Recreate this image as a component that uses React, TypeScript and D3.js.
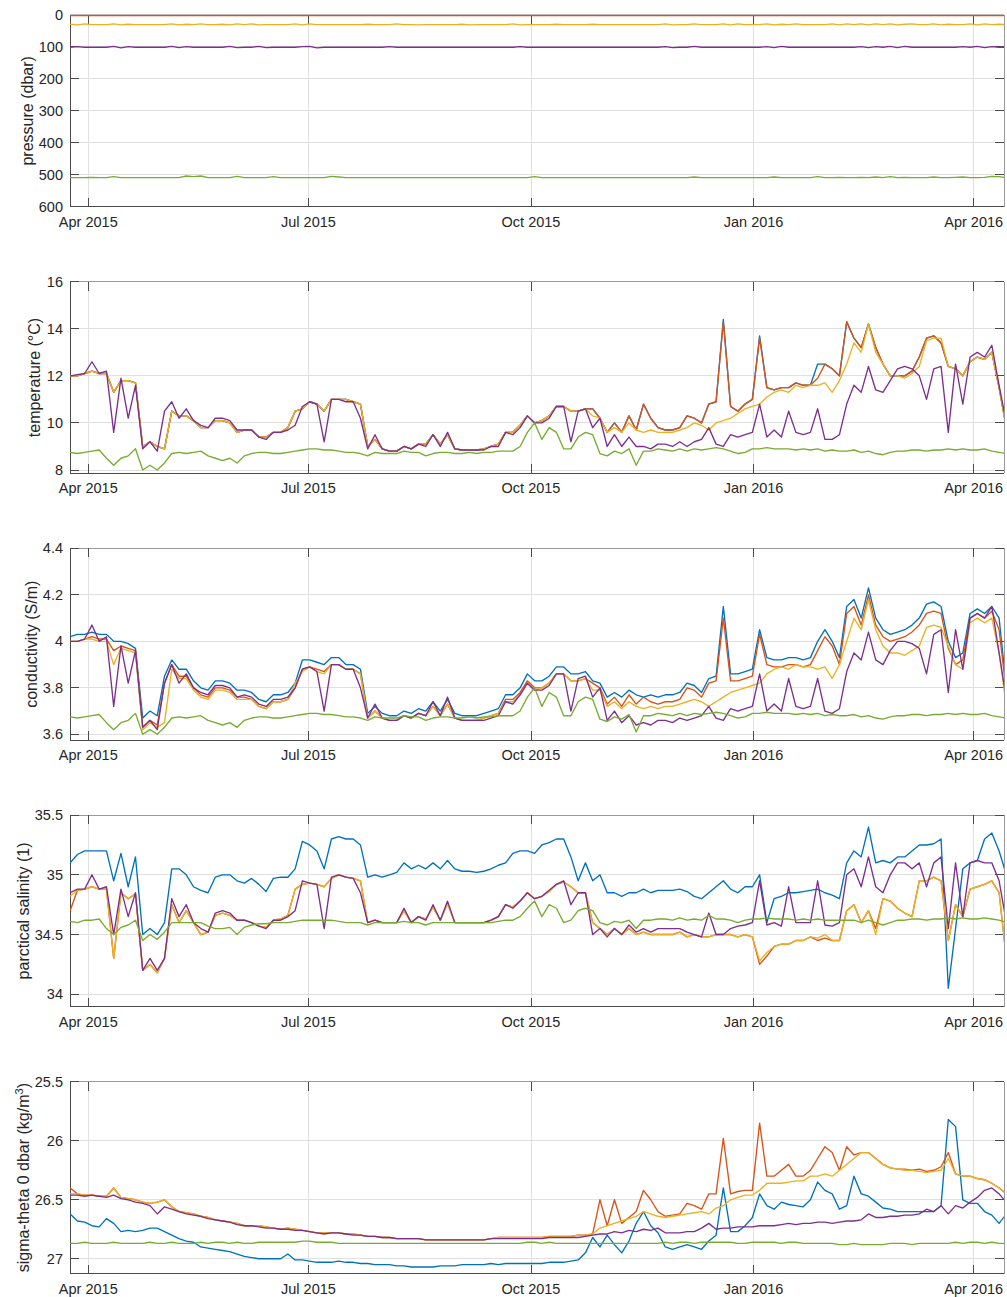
import React from "react";
import * as d3 from "d3";

// ---------- time grid ----------
const DAY = 86400000;
const X_START = Date.UTC(2015, 2, 24, 10, 26);
const X_END = Date.UTC(2016, 3, 13, 12, 36);
const FIRST_SAMPLE = Date.UTC(2015, 2, 24, 12);
const STEP_DAYS = 3;

const xTickDates = [
  Date.UTC(2015, 3, 1),
  Date.UTC(2015, 6, 1),
  Date.UTC(2015, 9, 1),
  Date.UTC(2016, 0, 1),
  Date.UTC(2016, 3, 1),
];
const xTickLabels = ["Apr 2015", "Jul 2015", "Oct 2015", "Jan 2016", "Apr 2016"];

// ---------- pressure (dbar) ----------
const presBlue = [
  1,1,1,1,1,1,1,1,1,1, 1,1,1,1,1,1,1,1,1,1, 1,1,1,1,1,1,1,1,1,1,
  1,1,1,1,1,1,1,1,1,1, 1,1,1,1,1,1,1,1,1,1, 1,1,1,1,1,1,1,1,1,1,
  1,1,1,1,1,1,1,1,1,1, 1,1,1,1,1,1,1,1,1,1, 1,1,1,1,1,1,1,1,1,1,
  1,1,1,1,1,1,1,1,1,1, 1,1,1,1,1,1,1,1,1,1, 1,1,1,1,1,1,1,1,1,1,
  1,1,1,1,1,1,1,1,1,1,
];
const presRed = [
  1.5,1.5,1.5,1.5,1.5,1.5,1.5,1.5,1.5,1.5, 1.5,1.5,1.5,1.5,1.5,1.5,1.5,1.5,1.5,1.5,
  1.5,1.5,1.5,1.5,1.5,1.5,1.5,1.5,1.5,1.5, 1.5,1.5,1.5,1.5,1.5,1.5,1.5,1.5,1.5,1.5,
  1.5,1.5,1.5,1.5,1.5,1.5,1.5,1.5,1.5,1.5, 1.5,1.5,1.5,1.5,1.5,1.5,1.5,1.5,1.5,1.5,
  1.5,1.5,1.5,1.5,1.5,1.5,1.5,1.5,1.5,1.5, 1.5,1.5,1.5,1.5,1.5,1.5,1.5,1.5,1.5,1.5,
  1.5,1.5,1.5,1.5,1.5,1.5,1.5,1.5,1.5,1.5, 1.5,1.5,1.5,1.5,1.5,1.5,1.5,1.5,1.5,1.5,
  1.5,1.5,1.5,1.5,1.5,1.5,1.5,1.5,1.5,1.5, 1.5,1.5,1.5,1.5,1.5,1.5,1.5,1.5,1.5,1.5,
  1.5,1.5,1.5,1.5,1.5,1.5,1.5,1.5,1.5,1.5,
];
const presYellow = [
  29,31,28,30,30,30,28,31,29,30, 30,30,30,30,28,31,29,30,28,30,
  30,29,31,28,30,28,31,30,30,30, 30,28,31,28,30,30,30,30,30,30,
  30,29,30,30,30,28,30,30,31,30, 30,30,30,30,29,31,30,30,30,30,
  30,28,31,30,30,30,30,29,30,30, 30,30,29,30,30,30,30,30,30,30,
  30,30,28,31,30,30,28,30,30,30, 28,31,28,30,30,30,28,31,29,30,
  28,30,30,30,30,28,31,28,30,28, 31,28,30,28,31,29,28,30,30,28,
  31,29,30,30,28,31,28,30,29,30,
];
const presPurple = [
  101,99,101,101,101,101,98,103,99,101, 101,101,101,101,98,102,99,101,101,101,
  101,101,98,102,101,101,98,102,101,101, 101,101,99,98,103,101,101,101,101,101,
  101,101,101,101,99,101,101,101,101,101, 101,101,101,101,101,101,101,101,101,101,
  101,101,99,101,101,101,101,101,101,101, 101,101,101,101,101,101,101,101,101,101,
  101,101,99,102,101,101,98,101,101,101, 101,101,101,101,101,101,99,102,98,101,
  101,101,101,101,101,101,101,101,101,99, 102,99,101,98,102,98,101,101,101,101,
  101,101,101,99,101,98,102,99,101,101,
];
const presGreen = [
  509,509,509,508,509,509,506,509,509,509, 509,509,509,509,509,509,504,506,504,509,
  509,509,509,505,509,509,509,509,506,509, 509,509,509,509,509,509,505,507,509,509,
  509,509,509,509,509,509,509,509,509,509, 509,509,509,509,509,509,509,509,509,509,
  509,509,509,509,506,509,509,509,509,509, 509,509,509,509,509,509,509,509,509,509,
  509,509,509,509,509,509,507,509,509,509, 509,509,509,509,509,509,509,507,509,509,
  509,509,509,506,509,509,508,509,509,508, 509,507,509,506,509,508,509,509,509,507,
  509,509,508,507,509,509,508,505,506,509,
];

// ---------- temperature (°C) ----------
const tempBlue = [
  12.0,12.0,12.1,12.2,12.1,12.1,11.3,11.8,11.8,11.7, 9.0,9.2,9.0,8.9,10.5,10.3,10.3,10.1,9.8,9.8,
  10.1,10.1,10.0,9.6,9.7,9.7,9.4,9.4,9.6,9.6, 9.8,10.5,10.6,10.9,10.8,10.5,11.0,11.0,11.0,10.9,
  10.8,9.0,9.3,8.9,8.8,8.8,9.0,8.9,9.1,9.1, 9.5,9.1,9.5,8.9,8.85,8.85,8.85,8.9,9.0,9.1,
  9.6,9.6,9.9,10.3,10.0,10.1,10.3,10.7,10.7,10.5, 10.5,10.6,10.6,10.2,9.6,10.0,9.6,10.3,9.7,10.8,
  10.2,9.8,9.7,9.7,9.8,10.3,10.2,10.0,10.8,10.9, 14.4,10.7,10.5,10.8,11.0,13.7,11.5,11.4,11.5,11.5,
  11.7,11.6,11.6,12.5,12.5,12.3,12.0,14.3,13.6,13.2, 14.2,13.2,12.5,12.0,12.0,12.0,12.2,12.8,13.6,13.7,
  13.4,12.4,12.3,12.0,12.6,12.8,12.7,13.0,11.5,9.8,
];
const tempRed = [
  12.0,12.0,12.1,12.2,12.1,12.1,11.3,11.8,11.8,11.7, 9.0,9.2,9.0,8.9,10.5,10.3,10.3,10.1,9.8,9.8,
  10.1,10.1,10.0,9.6,9.7,9.7,9.4,9.4,9.6,9.6, 9.8,10.5,10.6,10.9,10.8,10.5,11.0,11.0,11.0,10.9,
  10.8,9.0,9.3,8.9,8.8,8.8,9.0,8.9,9.1,9.1, 9.5,9.1,9.5,8.9,8.85,8.85,8.85,8.9,9.0,9.1,
  9.6,9.6,9.9,10.3,10.0,10.1,10.3,10.7,10.7,10.5, 10.5,10.6,10.6,10.2,9.6,10.0,9.6,10.3,9.7,10.8,
  10.2,9.8,9.7,9.7,9.8,10.3,10.2,10.0,10.8,10.9, 14.3,10.7,10.5,10.8,11.0,13.6,11.5,11.4,11.5,11.5,
  11.7,11.6,11.6,11.9,12.5,12.3,12.0,14.3,13.6,13.2, 14.2,13.2,12.5,12.0,12.0,12.0,12.2,12.8,13.6,13.7,
  13.4,12.4,12.3,12.0,12.6,12.8,12.7,13.0,11.5,9.8,
];
const tempYellow = [
  12.0,12.0,12.1,12.2,12.1,12.1,11.3,11.8,11.8,11.7, 9.0,9.2,9.0,8.9,10.5,10.3,10.3,10.1,9.8,9.8,
  10.1,10.1,10.0,9.6,9.7,9.7,9.4,9.4,9.6,9.6, 9.8,10.5,10.6,10.9,10.8,10.5,11.0,11.0,11.0,10.9,
  10.8,9.0,9.3,8.9,8.8,8.8,9.0,8.9,9.1,9.1, 9.5,9.1,9.5,8.9,8.85,8.85,8.85,8.9,9.0,9.1,
  9.6,9.6,9.9,10.3,10.0,10.1,10.3,10.7,10.7,10.5, 10.5,10.6,10.3,10.2,9.6,9.8,9.6,10.0,9.7,9.6,
  9.7,9.6,9.6,9.6,9.7,9.8,10.0,9.9,9.7,10.0, 10.1,10.2,10.4,10.6,10.7,10.8,11.1,11.3,11.4,11.3,
  11.6,11.5,11.6,11.6,11.7,11.3,11.8,12.5,13.4,13.0, 14.2,13.0,12.5,12.0,12.0,11.9,12.1,12.4,13.5,13.6,
  13.6,12.4,12.3,12.0,12.6,12.8,12.7,13.0,11.5,9.8,
];
const tempPurple = [
  12.0,12.05,12.1,12.6,12.1,12.2,9.6,11.9,10.2,11.6, 8.9,9.2,8.8,10.5,10.9,10.2,10.6,10.1,9.9,9.8,
  10.2,10.2,10.1,9.7,9.7,9.7,9.4,9.3,9.6,9.6, 9.7,9.9,10.7,10.9,10.8,9.2,11.0,11.0,10.9,10.9,
  10.2,8.9,9.5,8.9,8.8,8.8,9.0,8.9,9.1,9.0, 9.5,9.0,9.6,8.9,8.85,8.85,8.85,8.85,9.0,9.0,
  9.6,9.5,9.8,10.3,10.0,10.0,10.2,10.7,10.7,9.2, 10.5,10.6,9.8,10.2,9.0,9.5,9.0,9.4,9.0,9.0,
  8.9,9.1,9.1,9.0,9.2,9.0,9.2,9.3,9.8,9.1, 9.0,9.5,9.4,9.5,9.6,10.8,9.4,9.7,9.4,10.5,
  9.6,9.5,9.6,10.6,9.3,9.3,9.5,10.8,11.6,11.3, 12.4,11.4,11.3,11.8,12.3,12.4,12.3,12.0,11.0,12.3,
  12.4,9.6,12.5,10.8,12.8,13.0,12.8,13.3,11.6,10.0,
];
const tempGreen = [
  8.75,8.7,8.75,8.8,8.85,8.5,8.2,8.5,8.6,8.9, 8.0,8.2,8.0,8.3,8.7,8.75,8.7,8.75,8.8,8.6,
  8.5,8.4,8.5,8.3,8.6,8.7,8.75,8.75,8.7,8.7, 8.75,8.8,8.85,8.9,8.9,8.85,8.85,8.8,8.75,8.75,
  8.7,8.6,8.75,8.7,8.7,8.7,8.8,8.75,8.75,8.6, 8.7,8.75,8.75,8.7,8.7,8.75,8.7,8.75,8.75,8.8,
  8.8,8.8,9.0,9.6,10.0,9.3,9.8,9.6,8.9,8.9, 9.4,9.6,9.5,8.7,8.6,8.8,8.7,8.9,8.2,8.8,
  8.8,8.9,8.85,8.8,8.9,8.8,8.9,8.85,8.9,8.95, 8.9,8.8,8.7,8.75,8.9,8.9,8.95,8.9,8.9,8.9,
  8.85,8.9,8.85,8.9,8.8,8.85,8.8,8.8,8.85,8.75, 8.8,8.7,8.65,8.75,8.8,8.8,8.85,8.85,8.8,8.85,
  8.85,8.9,8.85,8.9,8.85,8.85,8.9,8.8,8.75,8.7,
];

// ---------- conductivity (S/m) ----------
const condBlue = [
  4.02,4.03,4.03,4.04,4.03,4.03,4.0,4.0,3.99,3.97, 3.67,3.7,3.68,3.85,3.92,3.88,3.88,3.83,3.8,3.79,
  3.83,3.83,3.82,3.79,3.79,3.78,3.75,3.74,3.77,3.77, 3.78,3.82,3.92,3.92,3.91,3.9,3.93,3.93,3.9,3.9,
  3.88,3.69,3.72,3.69,3.68,3.68,3.7,3.69,3.71,3.7, 3.74,3.7,3.75,3.69,3.68,3.68,3.68,3.69,3.7,3.71,
  3.77,3.77,3.8,3.86,3.83,3.83,3.85,3.89,3.89,3.86, 3.86,3.87,3.83,3.82,3.76,3.78,3.76,3.79,3.77,3.76,
  3.77,3.76,3.77,3.77,3.78,3.82,3.81,3.78,3.84,3.85, 4.15,3.86,3.86,3.87,3.88,4.05,3.93,3.92,3.92,3.93,
  3.93,3.92,3.93,4.0,4.05,4.0,3.93,4.15,4.18,4.1, 4.23,4.1,4.05,4.03,4.04,4.05,4.07,4.1,4.16,4.17,
  4.15,4.0,3.93,3.95,4.12,4.14,4.12,4.15,4.1,3.8,
];
const condRed = [
  4.0,4.0,4.01,4.02,4.01,4.01,3.96,3.98,3.97,3.96, 3.63,3.66,3.64,3.82,3.9,3.85,3.85,3.8,3.77,3.76,
  3.8,3.8,3.79,3.76,3.76,3.75,3.72,3.71,3.74,3.74, 3.75,3.8,3.88,3.89,3.88,3.87,3.9,3.9,3.88,3.88,
  3.86,3.67,3.7,3.67,3.66,3.66,3.68,3.67,3.69,3.68, 3.72,3.68,3.73,3.67,3.66,3.66,3.66,3.67,3.68,3.69,
  3.75,3.75,3.78,3.83,3.8,3.8,3.82,3.86,3.86,3.83, 3.83,3.84,3.82,3.8,3.73,3.76,3.72,3.77,3.73,3.76,
  3.74,3.73,3.74,3.74,3.75,3.8,3.79,3.76,3.82,3.83, 4.1,3.83,3.83,3.84,3.85,4.03,3.9,3.89,3.89,3.9,
  3.9,3.89,3.9,3.96,4.02,3.98,3.9,4.12,4.15,4.07, 4.2,4.07,4.02,4.0,4.01,4.02,4.04,4.07,4.12,4.13,
  4.12,3.97,3.9,3.92,4.1,4.12,4.1,4.13,4.05,3.78,
];
const condYellow = [
  4.0,4.0,4.01,4.01,4.0,4.0,3.9,3.97,3.96,3.95, 3.62,3.65,3.63,3.65,3.88,3.84,3.84,3.79,3.76,3.75,
  3.79,3.79,3.78,3.75,3.75,3.75,3.72,3.71,3.74,3.74, 3.75,3.82,3.87,3.89,3.87,3.86,3.9,3.9,3.88,3.88,
  3.86,3.67,3.7,3.67,3.66,3.66,3.68,3.67,3.69,3.68, 3.72,3.68,3.73,3.67,3.66,3.66,3.66,3.67,3.68,3.69,
  3.74,3.74,3.77,3.82,3.79,3.8,3.82,3.86,3.86,3.83, 3.83,3.84,3.79,3.79,3.72,3.74,3.71,3.74,3.72,3.71,
  3.72,3.71,3.72,3.72,3.73,3.74,3.75,3.74,3.72,3.74, 3.76,3.78,3.79,3.8,3.81,3.82,3.86,3.88,3.89,3.88,
  3.9,3.89,3.89,3.88,3.89,3.84,3.9,4.0,4.1,4.05, 4.18,4.05,3.98,3.95,3.95,3.94,3.96,3.98,4.06,4.07,
  4.06,3.98,3.9,3.88,4.08,4.1,4.08,4.1,3.95,3.72,
];
const condPurple = [
  4.0,4.0,4.01,4.07,4.0,4.02,3.72,3.98,3.82,3.96, 3.63,3.66,3.62,3.82,3.9,3.82,3.86,3.8,3.78,3.77,
  3.81,3.81,3.8,3.76,3.77,3.76,3.73,3.72,3.75,3.75, 3.76,3.8,3.88,3.89,3.87,3.7,3.9,3.9,3.88,3.88,
  3.8,3.67,3.73,3.67,3.66,3.66,3.68,3.67,3.69,3.68, 3.74,3.68,3.76,3.67,3.66,3.66,3.66,3.66,3.67,3.68,
  3.74,3.73,3.77,3.82,3.79,3.79,3.81,3.86,3.86,3.7, 3.84,3.85,3.76,3.8,3.66,3.7,3.65,3.68,3.64,3.65,
  3.64,3.66,3.66,3.65,3.67,3.66,3.67,3.68,3.72,3.67, 3.66,3.71,3.7,3.71,3.72,3.86,3.7,3.73,3.7,3.84,
  3.72,3.71,3.72,3.84,3.7,3.69,3.71,3.87,3.95,3.92, 4.04,3.92,3.9,3.96,4.0,4.0,3.99,3.97,3.86,4.03,
  4.05,3.78,4.05,3.88,4.1,4.12,4.1,4.15,3.95,3.75,
];
const condGreen = [
  3.675,3.67,3.675,3.68,3.685,3.65,3.62,3.65,3.66,3.69, 3.6,3.62,3.6,3.63,3.67,3.675,3.67,3.675,3.68,3.66,
  3.65,3.64,3.65,3.63,3.66,3.67,3.675,3.675,3.67,3.67, 3.675,3.68,3.685,3.69,3.69,3.685,3.685,3.68,3.675,3.675,
  3.67,3.66,3.675,3.67,3.67,3.67,3.68,3.675,3.675,3.66, 3.67,3.675,3.675,3.67,3.67,3.675,3.67,3.675,3.675,3.68,
  3.68,3.68,3.7,3.76,3.8,3.72,3.78,3.76,3.68,3.68, 3.74,3.76,3.75,3.665,3.655,3.675,3.665,3.685,3.61,3.68,
  3.68,3.69,3.685,3.68,3.69,3.68,3.69,3.685,3.69,3.695, 3.69,3.68,3.67,3.675,3.69,3.69,3.695,3.69,3.69,3.69,
  3.685,3.69,3.685,3.69,3.68,3.685,3.68,3.68,3.685,3.675, 3.68,3.67,3.665,3.675,3.68,3.68,3.685,3.685,3.68,3.685,
  3.685,3.69,3.685,3.69,3.685,3.685,3.69,3.68,3.675,3.67,
];

// ---------- practical salinity ----------
const salBlue = [
  35.1,35.17,35.2,35.2,35.2,35.2,34.95,35.18,34.9,35.15, 34.5,34.55,34.5,34.6,35.05,35.05,35.0,34.9,34.87,34.85,
  34.98,35.0,35.0,34.95,34.93,34.97,34.92,34.86,34.97,34.98, 34.98,35.05,35.28,35.25,35.2,35.05,35.3,35.32,35.3,35.3,
  35.25,34.98,35.0,34.98,35.0,35.02,35.1,35.05,35.08,35.05, 35.1,35.05,35.12,35.05,35.03,35.03,35.02,35.03,35.05,35.08,
  35.1,35.18,35.2,35.2,35.18,35.25,35.27,35.3,35.3,35.15, 34.95,35.1,34.95,35.0,34.85,34.85,34.82,34.85,34.85,34.88,
  34.85,34.87,34.87,34.87,34.88,34.86,34.82,34.8,34.85,34.9, 34.95,34.88,34.85,34.9,34.9,35.0,34.6,34.8,34.82,34.85,
  34.85,34.86,34.87,34.88,34.85,34.83,34.8,35.1,35.2,35.15, 35.4,35.1,35.12,35.1,35.15,35.15,35.2,35.25,35.25,35.26,
  35.3,34.05,34.55,35.05,35.1,35.12,35.3,35.35,35.2,35.0,
];
const salRed = [
  34.7,34.87,34.88,34.9,34.88,34.88,34.3,34.85,34.8,34.84, 34.2,34.25,34.18,34.3,34.75,34.6,34.7,34.6,34.5,34.52,
  34.66,34.68,34.66,34.62,34.62,34.6,34.57,34.56,34.62,34.63, 34.66,34.88,34.92,34.93,34.92,34.9,34.97,35.0,34.98,34.97,
  34.95,34.6,34.62,34.6,34.6,34.6,34.7,34.6,34.65,34.63, 34.73,34.62,34.76,34.6,34.6,34.6,34.6,34.6,34.62,34.65,
  34.75,34.73,34.78,34.85,34.8,34.82,34.86,34.92,34.94,34.9, 34.85,34.85,34.6,34.55,34.5,34.55,34.5,34.55,34.5,34.52,
  34.5,34.5,34.5,34.5,34.52,34.48,34.5,34.48,34.48,34.5, 34.5,34.5,34.48,34.5,34.48,34.25,34.32,34.4,34.42,34.42,
  34.45,34.45,34.48,34.45,34.47,34.45,34.45,34.7,34.75,34.6, 34.7,34.55,34.8,34.78,34.72,34.68,34.65,34.95,34.95,34.98,
  34.95,34.45,34.75,34.65,34.88,34.9,34.92,34.95,34.85,34.3,
];
const salYellow = [
  34.82,34.87,34.88,34.9,34.88,34.88,34.3,34.85,34.8,34.84, 34.2,34.25,34.18,34.3,34.75,34.6,34.7,34.6,34.5,34.52,
  34.66,34.68,34.66,34.62,34.62,34.6,34.57,34.56,34.62,34.63, 34.66,34.88,34.92,34.93,34.92,34.9,34.97,35.0,34.98,34.97,
  34.95,34.6,34.62,34.6,34.6,34.6,34.7,34.6,34.65,34.63, 34.73,34.62,34.76,34.6,34.6,34.6,34.6,34.6,34.62,34.65,
  34.75,34.73,34.78,34.85,34.8,34.82,34.86,34.92,34.94,34.9, 34.85,34.85,34.6,34.55,34.5,34.55,34.5,34.55,34.5,34.52,
  34.5,34.5,34.5,34.5,34.52,34.48,34.5,34.48,34.48,34.5, 34.5,34.5,34.48,34.5,34.48,34.28,34.35,34.4,34.42,34.42,
  34.45,34.45,34.48,34.47,34.5,34.45,34.45,34.7,34.75,34.6, 34.7,34.5,34.8,34.78,34.72,34.68,34.65,34.95,34.95,34.98,
  34.95,34.45,34.75,34.65,34.88,34.9,34.92,34.95,34.85,34.3,
];
const salPurple = [
  34.85,34.88,34.88,35.0,34.88,34.9,34.5,34.88,34.65,34.85, 34.2,34.3,34.2,34.3,34.8,34.65,34.75,34.6,34.55,34.52,
  34.68,34.7,34.68,34.62,34.62,34.6,34.57,34.55,34.62,34.62, 34.65,34.7,34.95,34.93,34.92,34.55,34.98,35.0,34.98,34.97,
  34.85,34.6,34.62,34.6,34.6,34.6,34.72,34.6,34.65,34.62, 34.75,34.62,34.78,34.6,34.6,34.6,34.6,34.6,34.62,34.65,
  34.75,34.72,34.78,34.85,34.8,34.82,34.87,34.92,34.95,34.75, 34.85,34.85,34.5,34.55,34.48,34.55,34.5,34.58,34.52,34.55,
  34.52,34.55,34.55,34.55,34.55,34.52,34.5,34.48,34.68,34.5, 34.5,34.55,34.57,34.58,34.6,34.95,34.58,34.6,34.57,34.9,
  34.6,34.6,34.6,34.95,34.58,34.57,34.6,35.0,35.05,34.9, 35.15,34.9,34.85,35.0,35.1,35.1,35.05,35.1,34.9,35.1,
  35.15,34.55,35.1,34.65,35.1,35.12,35.1,35.1,34.95,34.6,
];
const salGreen = [
  34.61,34.6,34.62,34.62,34.63,34.55,34.5,34.56,34.58,34.62, 34.45,34.5,34.46,34.52,34.6,34.6,34.6,34.6,34.6,34.57,
  34.55,34.55,34.56,34.5,34.56,34.58,34.59,34.59,34.6,34.6, 34.6,34.61,34.62,34.62,34.62,34.62,34.62,34.61,34.6,34.6,
  34.6,34.58,34.6,34.6,34.6,34.6,34.61,34.6,34.6,34.58, 34.6,34.6,34.6,34.6,34.6,34.6,34.6,34.6,34.6,34.61,
  34.62,34.62,34.65,34.72,34.78,34.65,34.75,34.72,34.6,34.62, 34.7,34.72,34.7,34.6,34.58,34.61,34.6,34.62,34.55,34.62,
  34.62,34.63,34.63,34.62,34.64,34.62,34.63,34.62,34.66,34.63, 34.63,34.62,34.6,34.62,34.63,34.63,34.64,34.63,34.63,34.63,
  34.62,34.63,34.62,34.63,34.62,34.62,34.62,34.62,34.62,34.6, 34.62,34.6,34.58,34.6,34.62,34.62,34.63,34.63,34.62,34.63,
  34.63,34.64,34.63,34.64,34.63,34.63,34.64,34.63,34.62,34.6,
];

// ---------- sigma-theta (kg/m^3) ----------
const sigBlue = [
  26.62,26.68,26.69,26.72,26.73,26.66,26.7,26.77,26.76,26.77, 26.76,26.74,26.74,26.77,26.8,26.83,26.85,26.86,26.9,26.91,
  26.92,26.93,26.94,26.96,26.98,26.99,27.0,27.0,27.0,27.0, 26.96,27.01,27.01,27.02,27.03,27.03,27.03,27.02,27.03,27.03,
  27.04,27.04,27.05,27.05,27.05,27.06,27.06,27.07,27.07,27.07, 27.07,27.06,27.06,27.06,27.05,27.05,27.05,27.05,27.04,27.05,
  27.04,27.04,27.04,27.04,27.04,27.04,27.03,27.03,27.03,27.02, 27.01,26.95,26.82,26.9,26.8,26.88,26.95,26.85,26.7,26.6,
  26.72,26.78,26.9,26.92,26.9,26.88,26.9,26.92,26.85,26.8, 26.4,26.77,26.77,26.72,26.65,26.45,26.55,26.58,26.52,26.54,
  26.55,26.56,26.5,26.35,26.42,26.45,26.58,26.55,26.3,26.45, 26.47,26.52,26.57,26.58,26.6,26.6,26.6,26.6,26.6,26.6,
  26.55,25.82,25.88,26.5,26.53,26.53,26.6,26.63,26.7,26.62,
];
const sigRed = [
  26.4,26.45,26.46,26.46,26.47,26.47,26.4,26.48,26.49,26.5, 26.52,26.53,26.52,26.5,26.56,26.6,26.61,26.62,26.64,26.65,
  26.67,26.68,26.69,26.7,26.72,26.72,26.72,26.73,26.74,26.75, 26.74,26.75,26.76,26.77,26.78,26.78,26.78,26.78,26.79,26.79,
  26.8,26.81,26.81,26.82,26.82,26.83,26.83,26.83,26.83,26.84, 26.84,26.84,26.84,26.84,26.84,26.84,26.84,26.84,26.83,26.82,
  26.82,26.82,26.82,26.82,26.82,26.82,26.81,26.81,26.81,26.81, 26.8,26.8,26.79,26.5,26.72,26.5,26.7,26.65,26.6,26.42,
  26.5,26.6,26.64,26.63,26.62,26.53,26.55,26.58,26.45,26.45, 25.98,26.45,26.43,26.42,26.42,25.85,26.3,26.3,26.25,26.2,
  26.3,26.3,26.25,26.15,26.05,26.1,26.25,26.05,26.12,26.1, 26.1,26.15,26.2,26.23,26.24,26.24,26.25,26.24,26.26,26.25,
  26.22,26.1,26.28,26.3,26.3,26.32,26.33,26.36,26.4,26.45,
];
const sigYellow = [
  26.45,26.45,26.46,26.46,26.47,26.47,26.4,26.48,26.49,26.5, 26.52,26.53,26.52,26.5,26.56,26.6,26.61,26.62,26.64,26.65,
  26.67,26.68,26.69,26.7,26.72,26.72,26.72,26.73,26.74,26.75, 26.74,26.75,26.76,26.77,26.78,26.78,26.78,26.78,26.79,26.79,
  26.8,26.81,26.81,26.82,26.82,26.83,26.83,26.83,26.83,26.84, 26.84,26.84,26.84,26.84,26.84,26.84,26.84,26.84,26.83,26.82,
  26.82,26.82,26.82,26.82,26.82,26.82,26.81,26.81,26.81,26.81, 26.8,26.8,26.79,26.74,26.72,26.7,26.68,26.66,26.64,26.6,
  26.62,26.64,26.65,26.64,26.63,26.62,26.61,26.6,26.62,26.57, 26.55,26.5,26.48,26.46,26.46,26.42,26.36,26.36,26.36,26.35,
  26.34,26.34,26.3,26.3,26.28,26.3,26.25,26.2,26.15,26.1, 26.1,26.15,26.2,26.23,26.24,26.25,26.25,26.26,26.27,26.26,
  26.25,26.15,26.28,26.3,26.3,26.32,26.33,26.36,26.4,26.45,
];
const sigPurple = [
  26.46,26.46,26.47,26.46,26.47,26.48,26.46,26.49,26.5,26.52, 26.53,26.55,26.62,26.56,26.58,26.6,26.62,26.63,26.64,26.66,
  26.67,26.68,26.69,26.71,26.72,26.72,26.73,26.74,26.74,26.75, 26.75,26.76,26.76,26.77,26.78,26.79,26.78,26.78,26.79,26.8,
  26.8,26.81,26.81,26.82,26.82,26.83,26.83,26.83,26.83,26.84, 26.84,26.84,26.84,26.84,26.84,26.84,26.84,26.84,26.83,26.83,
  26.83,26.83,26.83,26.83,26.83,26.83,26.82,26.82,26.82,26.82, 26.82,26.81,26.8,26.79,26.79,26.77,26.78,26.76,26.77,26.75,
  26.76,26.74,26.78,26.78,26.78,26.77,26.77,26.74,26.7,26.75, 26.74,26.74,26.73,26.73,26.73,26.72,26.72,26.72,26.71,26.7,
  26.71,26.7,26.7,26.69,26.69,26.7,26.69,26.68,26.68,26.67, 26.62,26.65,26.65,26.64,26.64,26.63,26.63,26.62,26.58,26.6,
  26.55,26.62,26.55,26.57,26.52,26.48,26.42,26.4,26.45,26.52,
];
const sigGreen = [
  26.87,26.87,26.86,26.87,26.87,26.87,26.86,26.87,26.87,26.87, 26.87,26.86,26.87,26.87,26.86,26.87,26.87,26.87,26.86,26.87,
  26.86,26.86,26.87,26.86,26.87,26.87,26.86,26.86,26.86,26.86, 26.86,26.86,26.85,26.85,26.86,26.86,26.86,26.87,26.87,26.87,
  26.87,26.87,26.87,26.87,26.87,26.87,26.87,26.87,26.87,26.87, 26.87,26.87,26.87,26.87,26.87,26.87,26.87,26.87,26.87,26.87,
  26.87,26.87,26.87,26.86,26.86,26.87,26.86,26.87,26.87,26.87, 26.87,26.87,26.87,26.87,26.87,26.87,26.87,26.87,26.87,26.87,
  26.87,26.87,26.86,26.87,26.86,26.86,26.87,26.86,26.86,26.86, 26.86,26.86,26.87,26.87,26.86,26.86,26.86,26.86,26.87,26.86,
  26.86,26.87,26.87,26.87,26.87,26.87,26.88,26.88,26.87,26.88, 26.88,26.88,26.88,26.87,26.87,26.87,26.88,26.87,26.87,26.87,
  26.87,26.87,26.86,26.87,26.86,26.86,26.87,26.86,26.87,26.87,
];

// ---------- axis ticks ----------
const presTicks = [0, 100, 200, 300, 400, 500, 600];
const tempTicks = [8, 10, 12, 14, 16];
const condTicks = [3.6, 3.8, 4, 4.2, 4.4];
const salTicks = [34, 34.5, 35, 35.5];
const sigTicks = [25.5, 26, 26.5, 27];

// ---------- styling ----------
const BLUE = "#0072BD";
const RED = "#D95319";
const YELLOW = "#EDB120";
const PURPLE = "#7E2F8E";
const GREEN = "#77AC30";

const W = 1007;
const H = 1297;
const X0 = 70;
const X1 = 1004;
const PH = 191.7;
const FONT = "'Liberation Sans', Arial, Helvetica, sans-serif";
const TXT = "#262626";
const GRID = "#e0e0e0";

type Series = { values: number[]; color: string };
type PanelCfg = {
  id: string;
  top: number;
  domain: [number, number];
  reversed: boolean;
  ticks: number[];
  label: React.ReactNode;
  labelX: number;
  series: Series[];
};

const panels: PanelCfg[] = [
  {
    id: "pres", top: 15, domain: [0, 600], reversed: true, ticks: presTicks,
    label: "pressure (dbar)", labelX: 33,
    series: [
      { values: presBlue, color: BLUE }, { values: presRed, color: RED },
      { values: presYellow, color: YELLOW }, { values: presPurple, color: PURPLE },
      { values: presGreen, color: GREEN },
    ],
  },
  {
    id: "temp", top: 281.7, domain: [7.856, 16], reversed: false, ticks: tempTicks,
    label: "temperature (°C)", labelX: 40,
    series: [
      { values: tempBlue, color: BLUE }, { values: tempRed, color: RED },
      { values: tempYellow, color: YELLOW }, { values: tempPurple, color: PURPLE },
      { values: tempGreen, color: GREEN },
    ],
  },
  {
    id: "cond", top: 548.4, domain: [3.575, 4.4], reversed: false, ticks: condTicks,
    label: "conductivity (S/m)", labelX: 37,
    series: [
      { values: condBlue, color: BLUE }, { values: condRed, color: RED },
      { values: condYellow, color: YELLOW }, { values: condPurple, color: PURPLE },
      { values: condGreen, color: GREEN },
    ],
  },
  {
    id: "sal", top: 815.1, domain: [33.895, 35.5], reversed: false, ticks: salTicks,
    label: "parctical salinity (1)", labelX: 29,
    series: [
      { values: salBlue, color: BLUE }, { values: salRed, color: RED },
      { values: salYellow, color: YELLOW }, { values: salPurple, color: PURPLE },
      { values: salGreen, color: GREEN },
    ],
  },
  {
    id: "sig", top: 1081.8, domain: [25.5, 27.125], reversed: true, ticks: sigTicks,
    label: (
      <>
        sigma-theta 0 dbar (kg/m
        <tspan dy={-6} fontSize={11}>3</tspan>
        <tspan dy={6}>)</tspan>
      </>
    ),
    labelX: 29,
    series: [
      { values: sigBlue, color: BLUE }, { values: sigRed, color: RED },
      { values: sigYellow, color: YELLOW }, { values: sigPurple, color: PURPLE },
      { values: sigGreen, color: GREEN },
    ],
  },
];

const x = d3.scaleTime().domain([new Date(X_START), new Date(X_END)]).range([X0, X1]);
const sampleDate = (i: number) => new Date(FIRST_SAMPLE + i * STEP_DAYS * DAY);

function Panel({ cfg }: { cfg: PanelCfg }) {
  const top = cfg.top;
  const bottom = top + PH;
  const y = d3
    .scaleLinear()
    .domain(cfg.domain)
    .range(cfg.reversed ? [top, bottom] : [bottom, top]);
  const line = d3
    .line<number>()
    .x((_, i) => x(sampleDate(i)))
    .y((v) => y(v));
  const clipId = `clip-${cfg.id}`;
  const TL = 9;
  return (
    <g>
      <defs>
        <clipPath id={clipId}>
          <rect x={X0} y={top - 1} width={X1 - X0} height={PH + 1} />
        </clipPath>
      </defs>
      <g shapeRendering="crispEdges">
        {xTickDates.map((d) => (
          <line key={"gx" + d} x1={x(new Date(d))} x2={x(new Date(d))} y1={top} y2={bottom} stroke={GRID} />
        ))}
        {cfg.ticks.map((v) => (
          <line key={"gy" + v} x1={X0} x2={X1} y1={y(v)} y2={y(v)} stroke={GRID} />
        ))}
        <line x1={X0} x2={X1} y1={top} y2={top} stroke="#9a9a9a" />
        <line x1={X1} x2={X1} y1={top} y2={bottom} stroke="#9a9a9a" />
        <line x1={X0} x2={X1} y1={bottom} y2={bottom} stroke="#4a4a4a" />
        <line x1={X0} x2={X0} y1={top} y2={bottom} stroke="#4a4a4a" />
        {xTickDates.map((d) => (
          <g key={"tx" + d}>
            <line x1={x(new Date(d))} x2={x(new Date(d))} y1={bottom} y2={bottom - TL} stroke="#4a4a4a" />
            <line x1={x(new Date(d))} x2={x(new Date(d))} y1={top} y2={top + TL} stroke="#4a4a4a" />
          </g>
        ))}
        {cfg.ticks.map((v) => (
          <g key={"ty" + v}>
            <line x1={X0} x2={X0 + TL} y1={y(v)} y2={y(v)} stroke="#4a4a4a" />
            <line x1={X1} x2={X1 - TL} y1={y(v)} y2={y(v)} stroke="#4a4a4a" />
          </g>
        ))}
      </g>
      <g clipPath={`url(#${clipId})`}>
        {cfg.series.map((s, k) => (
          <path
            key={k}
            d={line(s.values) || ""}
            fill="none"
            stroke={s.color}
            strokeWidth={1.35}
            strokeLinejoin="round"
          />
        ))}
      </g>
      <g fontFamily={FONT} fontSize={14.5} fill={TXT}>
        {cfg.ticks.map((v) => (
          <text key={"ly" + v} x={63} y={y(v)} dy="0.35em" textAnchor="end">
            {String(v)}
          </text>
        ))}
        {xTickDates.map((d, k) => (
          <text key={"lx" + d} x={x(new Date(d))} y={bottom + 20} textAnchor="middle">
            {xTickLabels[k]}
          </text>
        ))}
      </g>
      <text
        fontFamily={FONT}
        fontSize={16}
        fill={TXT}
        textAnchor="middle"
        transform={`translate(${cfg.labelX},${top + PH / 2}) rotate(-90)`}
      >
        {cfg.label}
      </text>
    </g>
  );
}

export default function App() {
  return (
    <svg
      width={W}
      height={H}
      viewBox={`0 0 ${W} ${H}`}
      style={{ position: "absolute", left: 0, top: 0, background: "#fff" }}
    >
      <rect x={0} y={0} width={W} height={H} fill="#fff" />
      {panels.map((p) => (
        <Panel key={p.id} cfg={p} />
      ))}
    </svg>
  );
}
